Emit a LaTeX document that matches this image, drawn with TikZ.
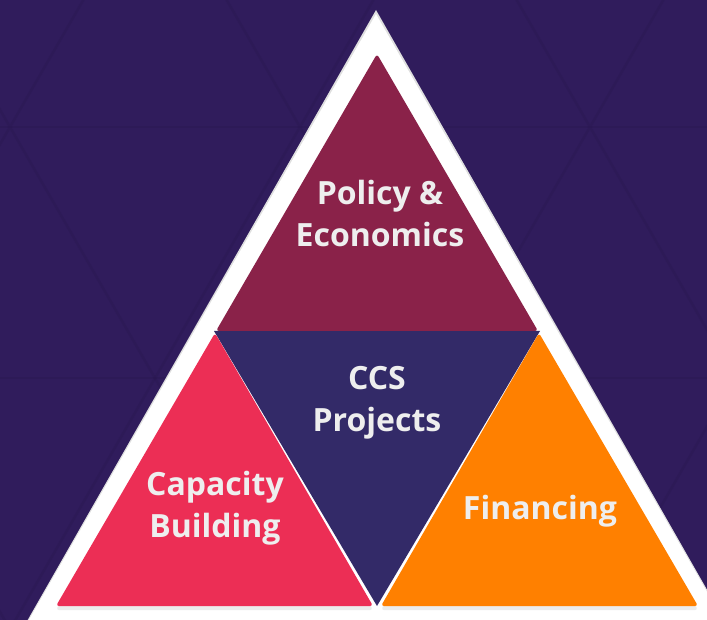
\documentclass[tikz,border=0pt]{standalone}
\usepackage{fontspec}
\setmainfont{Open Sans}
\usepackage{xcolor}
\usepackage{tikz}

\definecolor{bgpurple}{HTML}{301C5C}
\definecolor{gridline}{HTML}{29174F}
\definecolor{policyred}{HTML}{8A2249}
\definecolor{capacitypink}{HTML}{EC2E55}
\definecolor{financeorange}{HTML}{FF8000}
\definecolor{ccsblue}{HTML}{332A68}
\definecolor{textwhite}{HTML}{EEEEEE}

\tikzset{
  piece/.style={rounded corners=3pt},
  pyrtext/.style={text=textwhite, align=center, font=\bfseries\fontsize{32}{42}\selectfont}
}

\begin{document}
\begin{tikzpicture}[x=1pt, y=-1pt]
            \useasboundingbox (0,0) rectangle (707,620);
            \clip (0,0) rectangle (707,620);
            \fill[bgpurple] (0,0) rectangle (707,620);

            % faint grid in the background
            \foreach \k in {-3,...,3}
                \draw[gridline, line width=2.5pt, opacity=0.35]
                    ({590+\k*290-400},-565.8) -- ({590+\k*290+400},819.8)
                    ({590+\k*290+400},-565.8) -- ({590+\k*290-400},819.8);
            \foreach \y in {127,378}
                \draw[gridline, line width=2.5pt, opacity=0.35] (0,\y) -- (707,\y);

            % white frame
            \fill[gray!25] (376,10) -- (734.6,638) -- (17.4,638) -- cycle;
            \fill[white] (376,14) -- (734.6,640) -- (17.4,640) -- cycle;

            % shadows
            \fill[gray!15, piece] (56,610) -- (215,336) -- (373,610) -- cycle;
            \fill[gray!15, piece] (381,610) -- (539,336) -- (698,610) -- cycle;

            % four pieces
            \fill[ccsblue] (214,331) -- (540,331) -- (377,606) -- cycle;
            \fill[policyred, piece] (377,54) -- (538,331) -- (216,331) -- cycle;
            \fill[capacitypink, piece] (215,333) -- (373,606) -- (56,606) -- cycle;
            \fill[financeorange, piece] (539,333) -- (698,606) -- (381,606) -- cycle;

            \node[pyrtext] (policy) at (380,214) {Policy \&\\Economics};
            \node[pyrtext] (ccs) at (377,403) {CCS\\Projects};
            \node[pyrtext] (capacity) at (215,508) {Capacity\\Building};
            \node[pyrtext] (financing) at (540,511) {Financing};
\end{tikzpicture}
\end{document}
